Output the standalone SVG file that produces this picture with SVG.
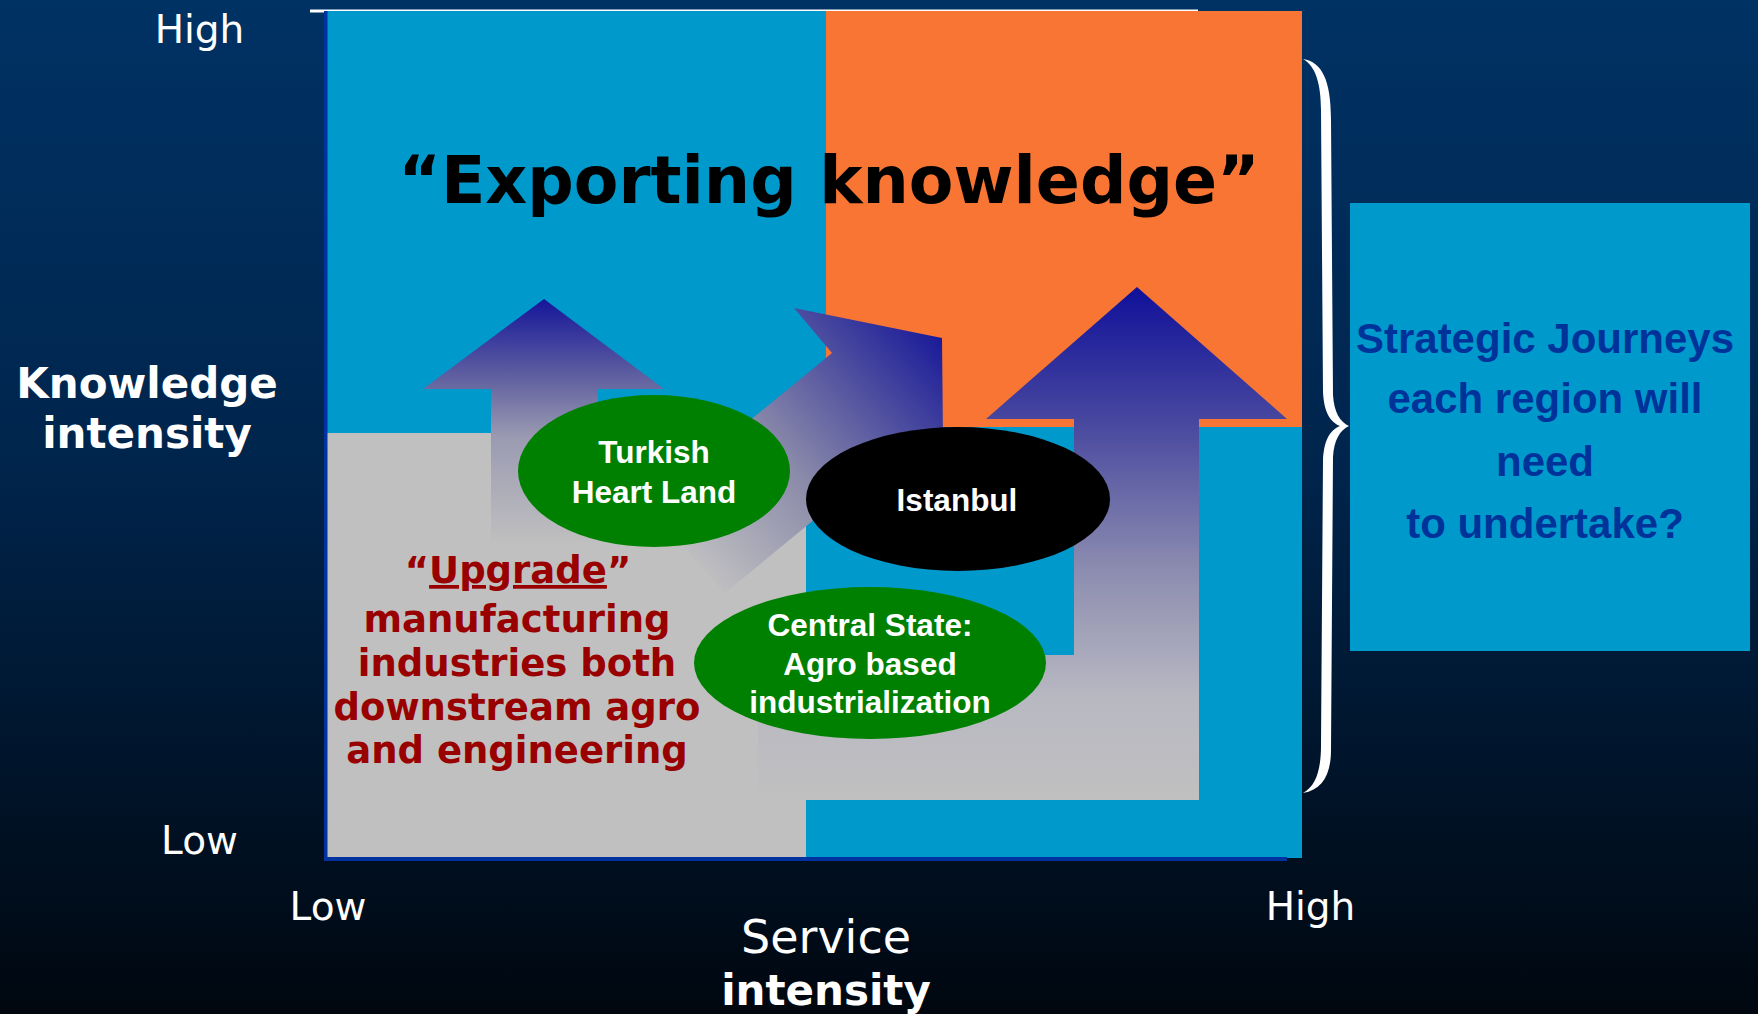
<svg xmlns="http://www.w3.org/2000/svg" width="1758" height="1014" viewBox="0 0 1758 1014">
<defs>
<linearGradient id="bg" x1="0" y1="0" x2="0" y2="1">
<stop offset="0" stop-color="#003264"/>
<stop offset="0.45" stop-color="#00254d"/>
<stop offset="1" stop-color="#00070f"/>
</linearGradient>
<linearGradient id="gLeft" gradientUnits="userSpaceOnUse" x1="0" y1="299" x2="0" y2="545">
<stop offset="0" stop-color="#15159a"/>
<stop offset="0.36" stop-color="#6a6aa2"/>
<stop offset="0.56" stop-color="#9a9ab2"/>
<stop offset="1" stop-color="#c0c0c0"/>
</linearGradient>
<linearGradient id="gBent" gradientUnits="userSpaceOnUse" x1="942" y1="338" x2="700" y2="560">
<stop offset="0" stop-color="#1a1a99"/>
<stop offset="0.3" stop-color="#5252a0"/>
<stop offset="0.6" stop-color="#8a8aaa"/>
<stop offset="1" stop-color="#bdbdc0"/>
</linearGradient>
<linearGradient id="gRight" gradientUnits="userSpaceOnUse" x1="0" y1="287" x2="0" y2="800">
<stop offset="0" stop-color="#10109a"/>
<stop offset="0.26" stop-color="#47479f"/>
<stop offset="0.55" stop-color="#8c8cb0"/>
<stop offset="0.8" stop-color="#b8b8c2"/>
<stop offset="1" stop-color="#c0c0c0"/>
</linearGradient>
</defs>
<style>
.axis{font-family:"DejaVu Sans",Verdana,sans-serif;fill:#ffffff;text-anchor:middle}
.axisb{font-family:"DejaVu Sans",Verdana,sans-serif;font-weight:bold;fill:#ffffff;text-anchor:middle}
.node{font-family:"Liberation Sans",Arial,sans-serif;font-weight:bold;font-size:31.5px;fill:#ffffff;text-anchor:middle}
.upg{font-family:"DejaVu Sans",Verdana,sans-serif;font-weight:bold;font-size:37px;fill:#990000;text-anchor:middle}
.side{font-family:"Liberation Sans",Arial,sans-serif;font-weight:bold;font-size:42px;fill:#003399;text-anchor:middle}
</style>
<rect x="0" y="0" width="1758" height="1014" fill="url(#bg)"/>

<g id="matrix">
<rect x="310" y="9.5" width="888" height="3" fill="#ffffff"/>
<rect x="327" y="11" width="499" height="422" fill="#0099cc"/>
<rect x="826" y="11" width="476" height="416" fill="#f87533"/>
<rect x="806" y="427" width="496" height="431" fill="#0099cc"/>
<rect x="327" y="433" width="479" height="425" fill="#c0c0c0"/>
<rect x="324" y="11" width="3.5" height="850" fill="#0033a0"/>
<rect x="324" y="857" width="963" height="4" fill="#0033a0"/>
</g>

<g id="connectors">
<polygon id="arrow-left" points="544,299 664,389 598,389 598,560 491,560 491,389 423,389" fill="url(#gLeft)"/>
<polygon id="arrow-bent" points="794,308 942,338 943,440 900,449 725,593 647,505 832,353" fill="url(#gBent)"/>
<polygon id="arrow-right" points="1137,287 1287,419 1199,419 1199,800 758,800 758,655 1074,655 1074,419 986,419" fill="url(#gRight)"/>
</g>

<g id="title">
<text x="829" y="203" font-family="'DejaVu Sans',Verdana,sans-serif" font-weight="bold" font-size="65" fill="#000000" text-anchor="middle">“Exporting knowledge”</text>
</g>

<g id="node-turkish">
<ellipse cx="654" cy="471" rx="136" ry="76" fill="#008000"/>
<text class="node" x="654" y="463">Turkish</text>
<text class="node" x="654" y="503">Heart Land</text>
</g>

<g id="node-istanbul">
<ellipse cx="958" cy="499" rx="152" ry="72" fill="#000000"/>
<text class="node" x="957" y="511">Istanbul</text>
</g>

<g id="node-central">
<ellipse cx="870" cy="663" rx="176" ry="76" fill="#008000"/>
<text class="node" x="870" y="636">Central State:</text>
<text class="node" x="870" y="675">Agro based</text>
<text class="node" x="870" y="713">industrialization</text>
</g>

<g id="upgrade">
<text class="upg" x="518" y="583">“<tspan text-decoration="underline">Upgrade</tspan>”</text>
<text class="upg" x="517" y="632">manufacturing</text>
<text class="upg" x="517" y="676">industries both</text>
<text class="upg" x="517" y="720">downstream agro</text>
<text class="upg" x="517" y="763">and engineering</text>
</g>

<g id="axes">
<text class="axis" x="199.5" y="43" font-size="39">High</text>
<text class="axis" x="199.5" y="854" font-size="39">Low</text>
<text class="axisb" x="147" y="398" font-size="42">Knowledge</text>
<text class="axisb" x="147" y="448" font-size="42">intensity</text>
<text class="axis" x="328" y="920" font-size="39">Low</text>
<text class="axis" x="1310.5" y="920" font-size="39">High</text>
<text class="axis" x="826" y="953" font-size="46">Service</text>
<text class="axisb" x="826" y="1005" font-size="42">intensity</text>
</g>

<g id="brace">
<path d="M1303,59 C1322,62 1331,80 1331,120 L1333,395 C1334,412 1340,422 1349,426 C1340,430 1334,440 1333,457 L1331,750 C1331,775 1322,790 1303,793 C1316,786 1321,770 1321,745 L1323,460 C1324,440 1330,430 1340,426 C1330,422 1324,412 1323,392 L1321,110 C1321,85 1316,66 1303,59 Z" fill="#ffffff"/>
</g>

<g id="node-journeys">
<rect x="1350" y="203" width="400" height="448" fill="#0099cc"/>
<text class="side" x="1545" y="353">Strategic Journeys</text>
<text class="side" x="1545" y="413">each region will</text>
<text class="side" x="1545" y="476">need</text>
<text class="side" x="1545" y="538">to undertake?</text>
</g>
</svg>
